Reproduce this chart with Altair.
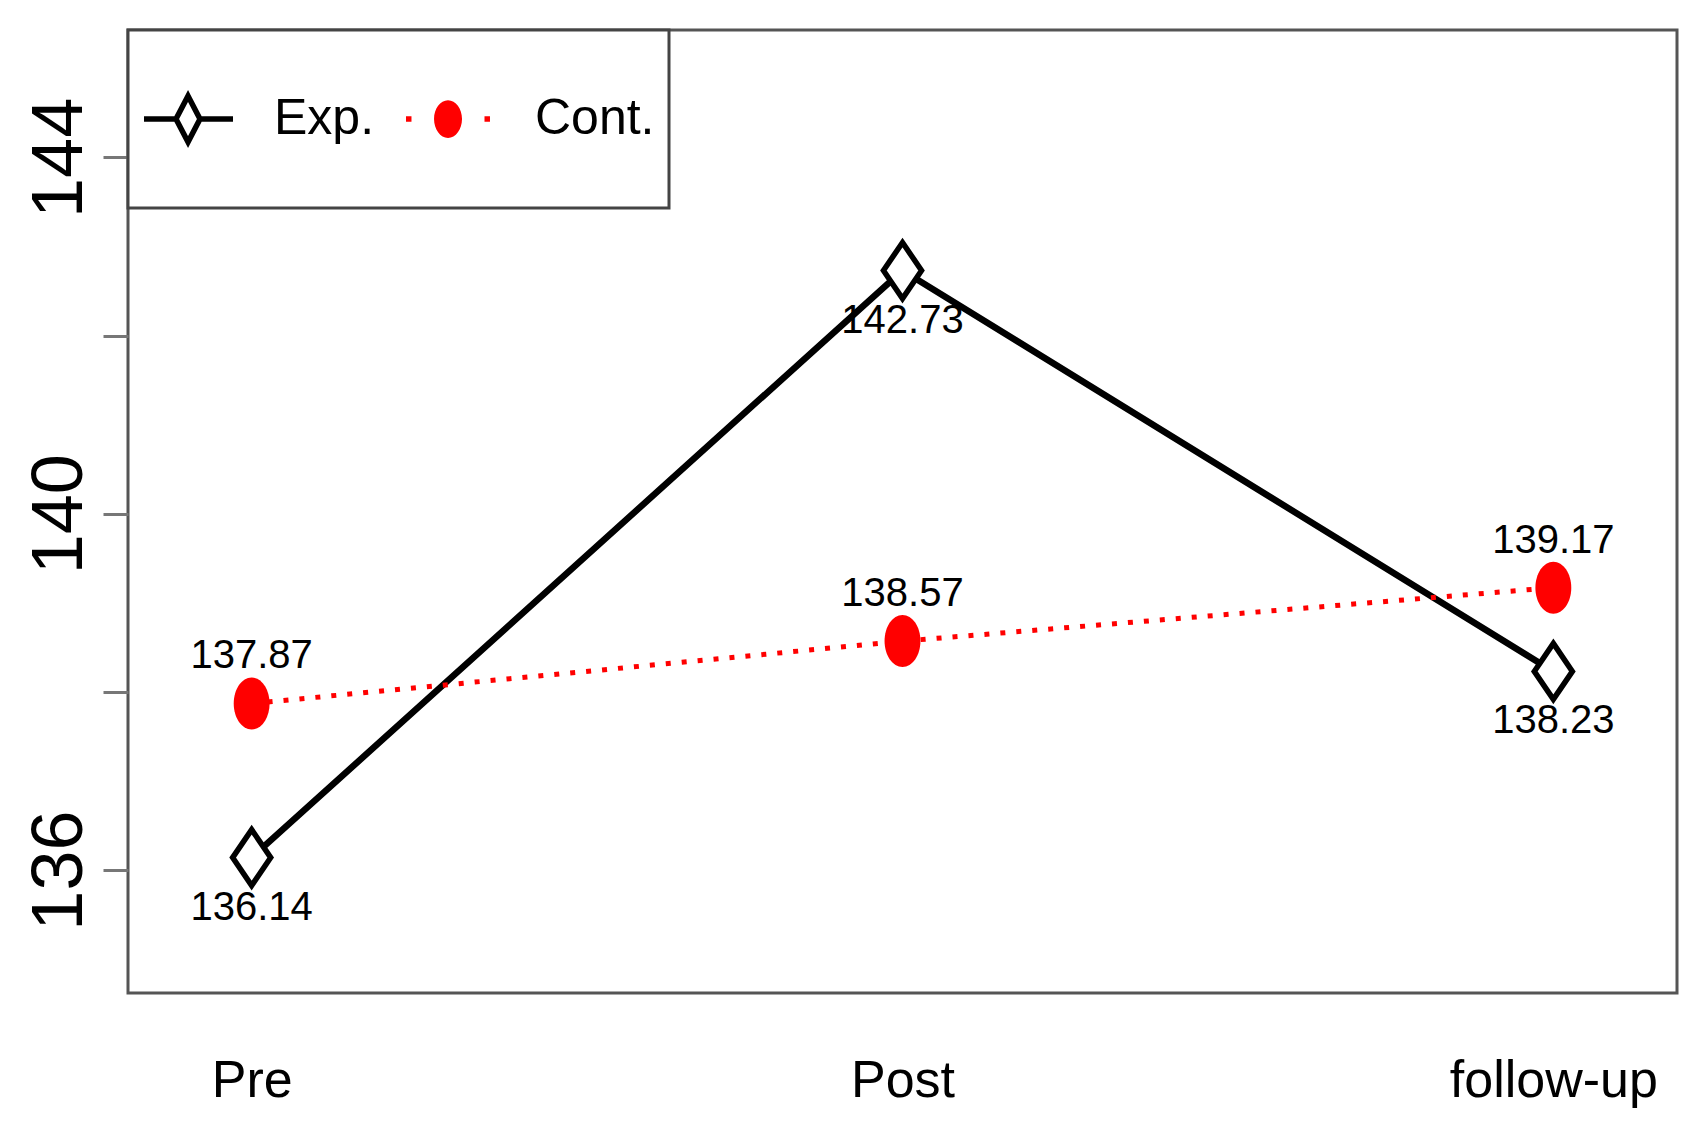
import altair as alt
import pandas as pd

# ---- data ----
phases = ["Pre", "Post", "follow-up"]
exp_vals = [136.14, 142.73, 138.23]
cont_vals = [137.87, 138.57, 139.17]
groups = ["Exp.", "Cont."]
y_ticks = [136, 138, 140, 142, 144]

df = pd.DataFrame({
    "phase": phases * 2,
    "value": exp_vals + cont_vals,
    "group": [groups[0]] * 3 + [groups[1]] * 3,
})

FONT = "Liberation Sans, Arial, sans-serif"


def f(v):
    return f"{v:.4f}"


def ellipse(cx, cy, rx, ry):
    k = 0.5523
    return (
        f"M{f(cx)},{f(cy-ry)}"
        f"C{f(cx+k*rx)},{f(cy-ry)} {f(cx+rx)},{f(cy-k*ry)} {f(cx+rx)},{f(cy)}"
        f"C{f(cx+rx)},{f(cy+k*ry)} {f(cx+k*rx)},{f(cy+ry)} {f(cx)},{f(cy+ry)}"
        f"C{f(cx-k*rx)},{f(cy+ry)} {f(cx-rx)},{f(cy+k*ry)} {f(cx-rx)},{f(cy)}"
        f"C{f(cx-rx)},{f(cy-k*ry)} {f(cx-k*rx)},{f(cy-ry)} {f(cx)},{f(cy-ry)}Z"
    )


def square(x0, s):
    return f"M{f(x0)},{f(-s/2)}h{f(s)}v{f(s)}h{f(-s)}Z"


diamond_path = "M0,-1L0.68,0L0,1L-0.68,0Z"
dot_path = ellipse(0, 0, 0.69, 1)

# invisible move-tos give the legend row its height
extent = "M0,-1.015M0,1.015"
exp_legend_path = (
    extent +
    "M-1.016,0H-0.508M-0.127,0H0.397"
    "M-0.317,-0.365L-0.127,0L-0.317,0.365L-0.508,0Z"
)
cont_legend_path = (
    extent +
    square(-1.0, 0.087) + square(0.246, 0.087) + ellipse(-0.333, 0, 0.222, 0.30)
)

x = alt.X(
    "phase:N",
    sort=phases,
    scale=alt.Scale(type="point", padding=0.19),
    axis=alt.Axis(
        title=None, ticks=False, domain=False, grid=False,
        labelFont=FONT, labelFontSize=52, labelColor="black", labelLimit=0,
        labelPadding=62, labelBaseline="top", labelAngle=0,
    ),
)
y = alt.Y(
    "value:Q",
    scale=alt.Scale(domain=[134.62, 145.43], nice=False, zero=False),
    axis=alt.Axis(
        title=None, values=y_ticks, grid=False, domain=False,
        labelExpr="datum.value % 4 == 0 ? datum.label : ''",
        ticks=True, tickSize=25, tickWidth=3, tickColor="#777",
        labelAngle=270, labelAlign="center", labelBaseline="alphabetic",
        labelPadding=22, labelFont=FONT, labelFontSize=72, labelColor="black",
    ),
)

base = alt.Chart(df)

exp_line = base.transform_filter(alt.datum.group == groups[0]).mark_line(
    color="black", strokeWidth=6.5
).encode(x=x, y=y)

cont_line = base.transform_filter(alt.datum.group == groups[1]).mark_line(
    color="red", strokeWidth=5, strokeDash=[5, 11]
).encode(x=x, y=y)

exp_pts = base.transform_filter(alt.datum.group == groups[0]).mark_point(
    shape=diamond_path, size=3136, filled=True, fill="white",
    stroke="black", strokeWidth=5.5, opacity=1
).encode(x=x, y=y)

cont_pts = base.transform_filter(alt.datum.group == groups[1]).mark_point(
    shape=dot_path, size=2704, filled=True, fill="red", strokeWidth=0, opacity=1
).encode(x=x, y=y)

exp_txt = base.transform_filter(alt.datum.group == groups[0]).mark_text(
    dy=50, font=FONT, fontSize=40, color="black", baseline="middle"
).encode(x=x, y=y, text=alt.Text("value:Q", format=".2f"))

cont_txt = base.transform_filter(alt.datum.group == groups[1]).mark_text(
    dy=-47, font=FONT, fontSize=40, color="black", baseline="middle"
).encode(x=x, y=y, text=alt.Text("value:Q", format=".2f"))

legend_layer = base.transform_filter("false").mark_point(
    filled=True, opacity=1
).encode(
    x=x, y=y,
    shape=alt.Shape(
        "group:N",
        scale=alt.Scale(domain=groups, range=[exp_legend_path, cont_legend_path]),
        legend=alt.Legend(
            title=" ", titleFontSize=1, titlePadding=8,
            orient="none", legendX=0, legendY=0,
            direction="horizontal", symbolSize=15876, symbolStrokeWidth=5.5,
            labelFont=FONT, labelFontSize=50, labelColor="black",
            labelOffset=0, columnPadding=20, padding=14,
            strokeColor="#444", fillColor="white", symbolOpacity=1,
        ),
    ),
    fill=alt.Fill("group:N", scale=alt.Scale(domain=groups, range=["white", "red"])),
    stroke=alt.Stroke("group:N", scale=alt.Scale(domain=groups, range=["black", "transparent"])),
)

chart = alt.layer(
    exp_line, cont_line, exp_pts, cont_pts, exp_txt, cont_txt, legend_layer
).properties(
    width=1549, height=963,
    padding={"left": 120, "top": 22, "right": 15, "bottom": 125},
    autosize="none",
).configure_view(
    stroke="#555", strokeWidth=3
).configure_legend(
    strokeWidth=3
)

chart.save("out.html", embed_options={"renderer": "svg", "actions": False})
